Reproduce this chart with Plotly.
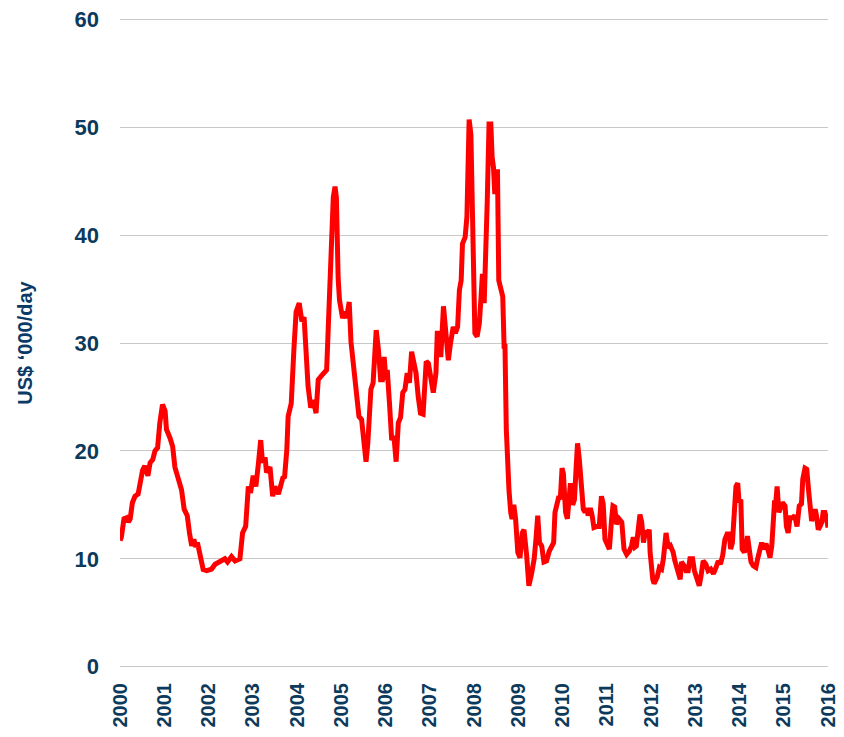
import plotly.graph_objects as go

years = [
    2000.00, 2000.03, 2000.09, 2000.15, 2000.19, 2000.23, 2000.28, 2000.34, 2000.41, 2000.45,
    2000.51, 2000.56, 2000.63, 2000.68, 2000.74, 2000.79, 2000.85, 2000.90, 2000.96, 2001.02,
    2001.05, 2001.13, 2001.19, 2001.24, 2001.29, 2001.34, 2001.39, 2001.45, 2001.52, 2001.57,
    2001.62, 2001.67, 2001.71, 2001.75, 2001.81, 2001.88, 2001.96, 2002.07, 2002.15, 2002.26,
    2002.37, 2002.43, 2002.52, 2002.60, 2002.71, 2002.77, 2002.84, 2002.90, 2002.95, 2003.01,
    2003.07, 2003.13, 2003.18, 2003.22, 2003.28, 2003.31, 2003.39, 2003.45, 2003.50, 2003.58,
    2003.68, 2003.72, 2003.77, 2003.80, 2003.87, 2003.93, 2003.98, 2004.05, 2004.11, 2004.16,
    2004.22, 2004.25, 2004.31, 2004.37, 2004.43, 2004.48, 2004.56, 2004.67, 2004.71, 2004.75,
    2004.78, 2004.82, 2004.86, 2004.89, 2004.93, 2004.96, 2005.03, 2005.08, 2005.12, 2005.18,
    2005.22, 2005.27, 2005.35, 2005.40, 2005.46, 2005.51, 2005.56, 2005.60, 2005.63, 2005.67,
    2005.72, 2005.79, 2005.84, 2005.89, 2005.93, 2005.97, 2006.01, 2006.04, 2006.09, 2006.14,
    2006.19, 2006.24, 2006.29, 2006.34, 2006.39, 2006.44, 2006.49, 2006.54, 2006.59, 2006.63,
    2006.69, 2006.74, 2006.79, 2006.85, 2006.89, 2006.92, 2006.97, 2007.02, 2007.08, 2007.14,
    2007.17, 2007.21, 2007.25, 2007.31, 2007.36, 2007.42, 2007.47, 2007.53, 2007.58, 2007.63,
    2007.67, 2007.71, 2007.74, 2007.80, 2007.84, 2007.86, 2007.89, 2007.93, 2007.97, 2008.02,
    2008.07, 2008.12, 2008.16, 2008.19, 2008.23, 2008.27, 2008.30, 2008.34, 2008.38, 2008.41,
    2008.44, 2008.47, 2008.53, 2008.56, 2008.60, 2008.65, 2008.68, 2008.70, 2008.73, 2008.76,
    2008.79, 2008.83, 2008.86, 2008.90, 2008.94, 2008.99, 2009.04, 2009.09, 2009.13, 2009.19,
    2009.24, 2009.30, 2009.36, 2009.40, 2009.44, 2009.48, 2009.53, 2009.58, 2009.64, 2009.70,
    2009.75, 2009.80, 2009.83, 2009.88, 2009.92, 2009.95, 2009.99, 2010.02, 2010.07, 2010.11,
    2010.15, 2010.18, 2010.23, 2010.27, 2010.31, 2010.34, 2010.38, 2010.43, 2010.47, 2010.51,
    2010.55, 2010.58, 2010.63, 2010.67, 2010.71, 2010.77, 2010.83, 2010.88, 2010.92, 2010.96,
    2011.01, 2011.06, 2011.11, 2011.14, 2011.18, 2011.22, 2011.28, 2011.34, 2011.39, 2011.45,
    2011.51, 2011.56, 2011.60, 2011.64, 2011.67, 2011.71, 2011.75, 2011.79, 2011.83, 2011.88,
    2011.92, 2011.96, 2011.98, 2012.04, 2012.07, 2012.14, 2012.19, 2012.24, 2012.28, 2012.34,
    2012.39, 2012.44, 2012.50, 2012.54, 2012.59, 2012.66, 2012.69, 2012.75, 2012.79, 2012.84,
    2012.88, 2012.94, 2012.98, 2013.03, 2013.09, 2013.13, 2013.18, 2013.24, 2013.29, 2013.35,
    2013.41, 2013.47, 2013.52, 2013.57, 2013.62, 2013.67, 2013.72, 2013.77, 2013.80, 2013.84,
    2013.88, 2013.92, 2013.96, 2013.99, 2014.03, 2014.06, 2014.11, 2014.15, 2014.18, 2014.22,
    2014.26, 2014.31, 2014.37, 2014.41, 2014.46, 2014.50, 2014.54, 2014.60, 2014.64, 2014.69,
    2014.73, 2014.75, 2014.79, 2014.82, 2014.85, 2014.89, 2014.93, 2014.97, 2015.03, 2015.06,
    2015.10, 2015.14, 2015.20, 2015.25, 2015.30, 2015.35, 2015.40, 2015.43, 2015.48, 2015.52,
    2015.56, 2015.59, 2015.63, 2015.67, 2015.71, 2015.74, 2015.78, 2015.82, 2015.86, 2015.89,
    2015.93, 2015.97, 2016.00,
]

rates = [
    11.7, 12.0, 13.7, 13.8, 13.4, 13.7, 15.2, 15.8, 16.0, 17.1,
    18.2, 18.6, 17.7, 18.9, 19.2, 20.0, 20.3, 22.6, 24.3, 23.7,
    22.0, 21.2, 20.4, 18.5, 17.8, 17.1, 16.4, 14.6, 14.0, 12.4,
    11.2, 11.8, 11.1, 11.5, 10.2, 9.0, 8.9, 9.05, 9.5, 9.7,
    10.0, 9.7, 10.2, 9.8, 10.0, 12.4, 13.0, 16.7, 16.1, 17.7,
    16.7, 18.9, 21.0, 18.9, 19.4, 18.0, 18.5, 15.8, 16.7, 16.0,
    17.5, 17.6, 20.1, 23.2, 24.4, 29.4, 32.9, 33.7, 32.0, 32.4,
    27.8, 26.0, 24.0, 24.7, 23.5, 26.6, 27.0, 27.5, 31.8, 35.8,
    39.0, 43.5, 44.5, 43.5, 36.0, 34.0, 32.3, 32.9, 32.3, 33.8,
    30.1, 28.1, 25.0, 23.2, 22.9, 21.0, 19.0, 20.7, 22.9, 25.7,
    26.3, 31.2, 29.4, 26.6, 26.6, 28.7, 26.6, 27.5, 24.4, 21.0,
    21.4, 19.0, 22.6, 23.1, 25.4, 25.7, 27.2, 26.3, 29.2, 28.4,
    27.2, 25.0, 23.5, 23.4, 25.4, 28.3, 28.1, 26.9, 25.4, 27.2,
    30.9, 30.9, 28.7, 33.4, 30.9, 28.4, 30.0, 31.5, 30.9, 31.5,
    34.9, 35.8, 39.2, 39.8, 41.7, 46.7, 50.7, 49.3, 40.7, 30.9,
    30.6, 31.8, 34.3, 36.4, 33.7, 42.3, 43.2, 50.3, 50.3, 47.2,
    46.3, 43.8, 46.1, 35.8, 35.2, 34.3, 29.7, 29.7, 22.0, 18.0,
    16.4, 14.3, 13.7, 15.0, 13.7, 10.6, 10.1, 12.4, 12.7, 10.3,
    7.5, 8.6, 10.0, 11.8, 14.0, 11.5, 11.2, 9.7, 9.8, 10.7,
    11.0, 11.5, 14.3, 15.2, 15.8, 15.5, 18.4, 17.9, 14.3, 13.7,
    16.4, 17.0, 15.0, 15.5, 18.6, 20.7, 19.2, 16.7, 14.6, 14.3,
    14.7, 14.0, 14.7, 14.0, 12.9, 13.0, 13.0, 15.8, 15.1, 11.8,
    11.2, 10.9, 13.7, 14.9, 14.8, 13.2, 13.7, 13.4, 10.9, 10.4,
    10.7, 11.2, 12.0, 11.1, 11.2, 12.7, 14.1, 13.4, 11.5, 12.6,
    12.3, 12.7, 10.6, 8.1, 7.7, 8.3, 9.2, 9.05, 10.0, 12.4,
    11.0, 11.2, 10.6, 9.8, 9.2, 8.1, 9.7, 9.35, 8.9, 8.9,
    10.0, 10.0, 8.9, 8.1, 7.5, 8.4, 9.8, 9.5, 8.9, 9.05,
    8.6, 9.2, 9.8, 9.5, 10.3, 11.8, 12.3, 12.3, 10.9, 11.5,
    14.3, 16.7, 17.0, 15.2, 15.5, 10.9, 10.6, 11.2, 12.1, 10.6,
    9.7, 9.35, 9.2, 10.0, 10.9, 11.5, 10.9, 11.4, 10.9, 10.1,
    11.2, 12.7, 15.2, 15.2, 16.7, 14.3, 14.9, 15.2, 14.9, 13.0,
    12.4, 13.8, 13.8, 14.0, 13.0, 14.9, 15.1, 17.4, 18.4, 18.3,
    16.4, 14.6, 13.5, 14.0, 14.6, 14.0, 12.7, 13.0, 13.4, 14.3,
    14.3, 13.7, 12.9,
]

year_ticks = list(range(2000, 2017))
year_labels = [str(y) for y in year_ticks]
y_ticks = [0, 10, 20, 30, 40, 50, 60]

navy = "#0C3A5C"
font_family = "Liberation Sans, Arial, sans-serif"

fig = go.Figure()
fig.add_trace(go.Scatter(
    x=years, y=rates, mode="lines",
    line=dict(color="#FF0000", width=5),
    hoverinfo="skip", showlegend=False,
))

# page body has an 8px margin, so the figure is 8px smaller and margins shifted
fig.update_layout(
    width=836, height=729,
    margin=dict(l=112, r=16, t=10, b=69),
    paper_bgcolor="white", plot_bgcolor="white",
    font=dict(family=font_family, color=navy),
)

fig.update_xaxes(
    range=[2000, 2016],
    tickmode="array", tickvals=year_ticks, ticktext=year_labels,
    tickangle=-90,
    tickfont=dict(family=font_family, size=20, color=navy, weight="bold"),
    showgrid=False, zeroline=False, showline=False,
    ticks="", ticklabelstandoff=10, ticklabeloverflow="allow",
    automargin=False,
)

fig.update_yaxes(
    range=[-0.12, 60.12],
    tickmode="array", tickvals=y_ticks,
    tickfont=dict(family=font_family, size=22, color=navy, weight="bold"),
    showgrid=True, gridcolor="#C8C8C8", gridwidth=1,
    zeroline=False, showline=False, ticks="",
    ticklabelstandoff=20, ticklabeloverflow="allow",
    title=dict(text="US$ \u2018000/day", standoff=36,
               font=dict(family=font_family, size=20, color="#0A3A66", weight="bold")),
    automargin=False,
)

fig.write_html("out.html")
